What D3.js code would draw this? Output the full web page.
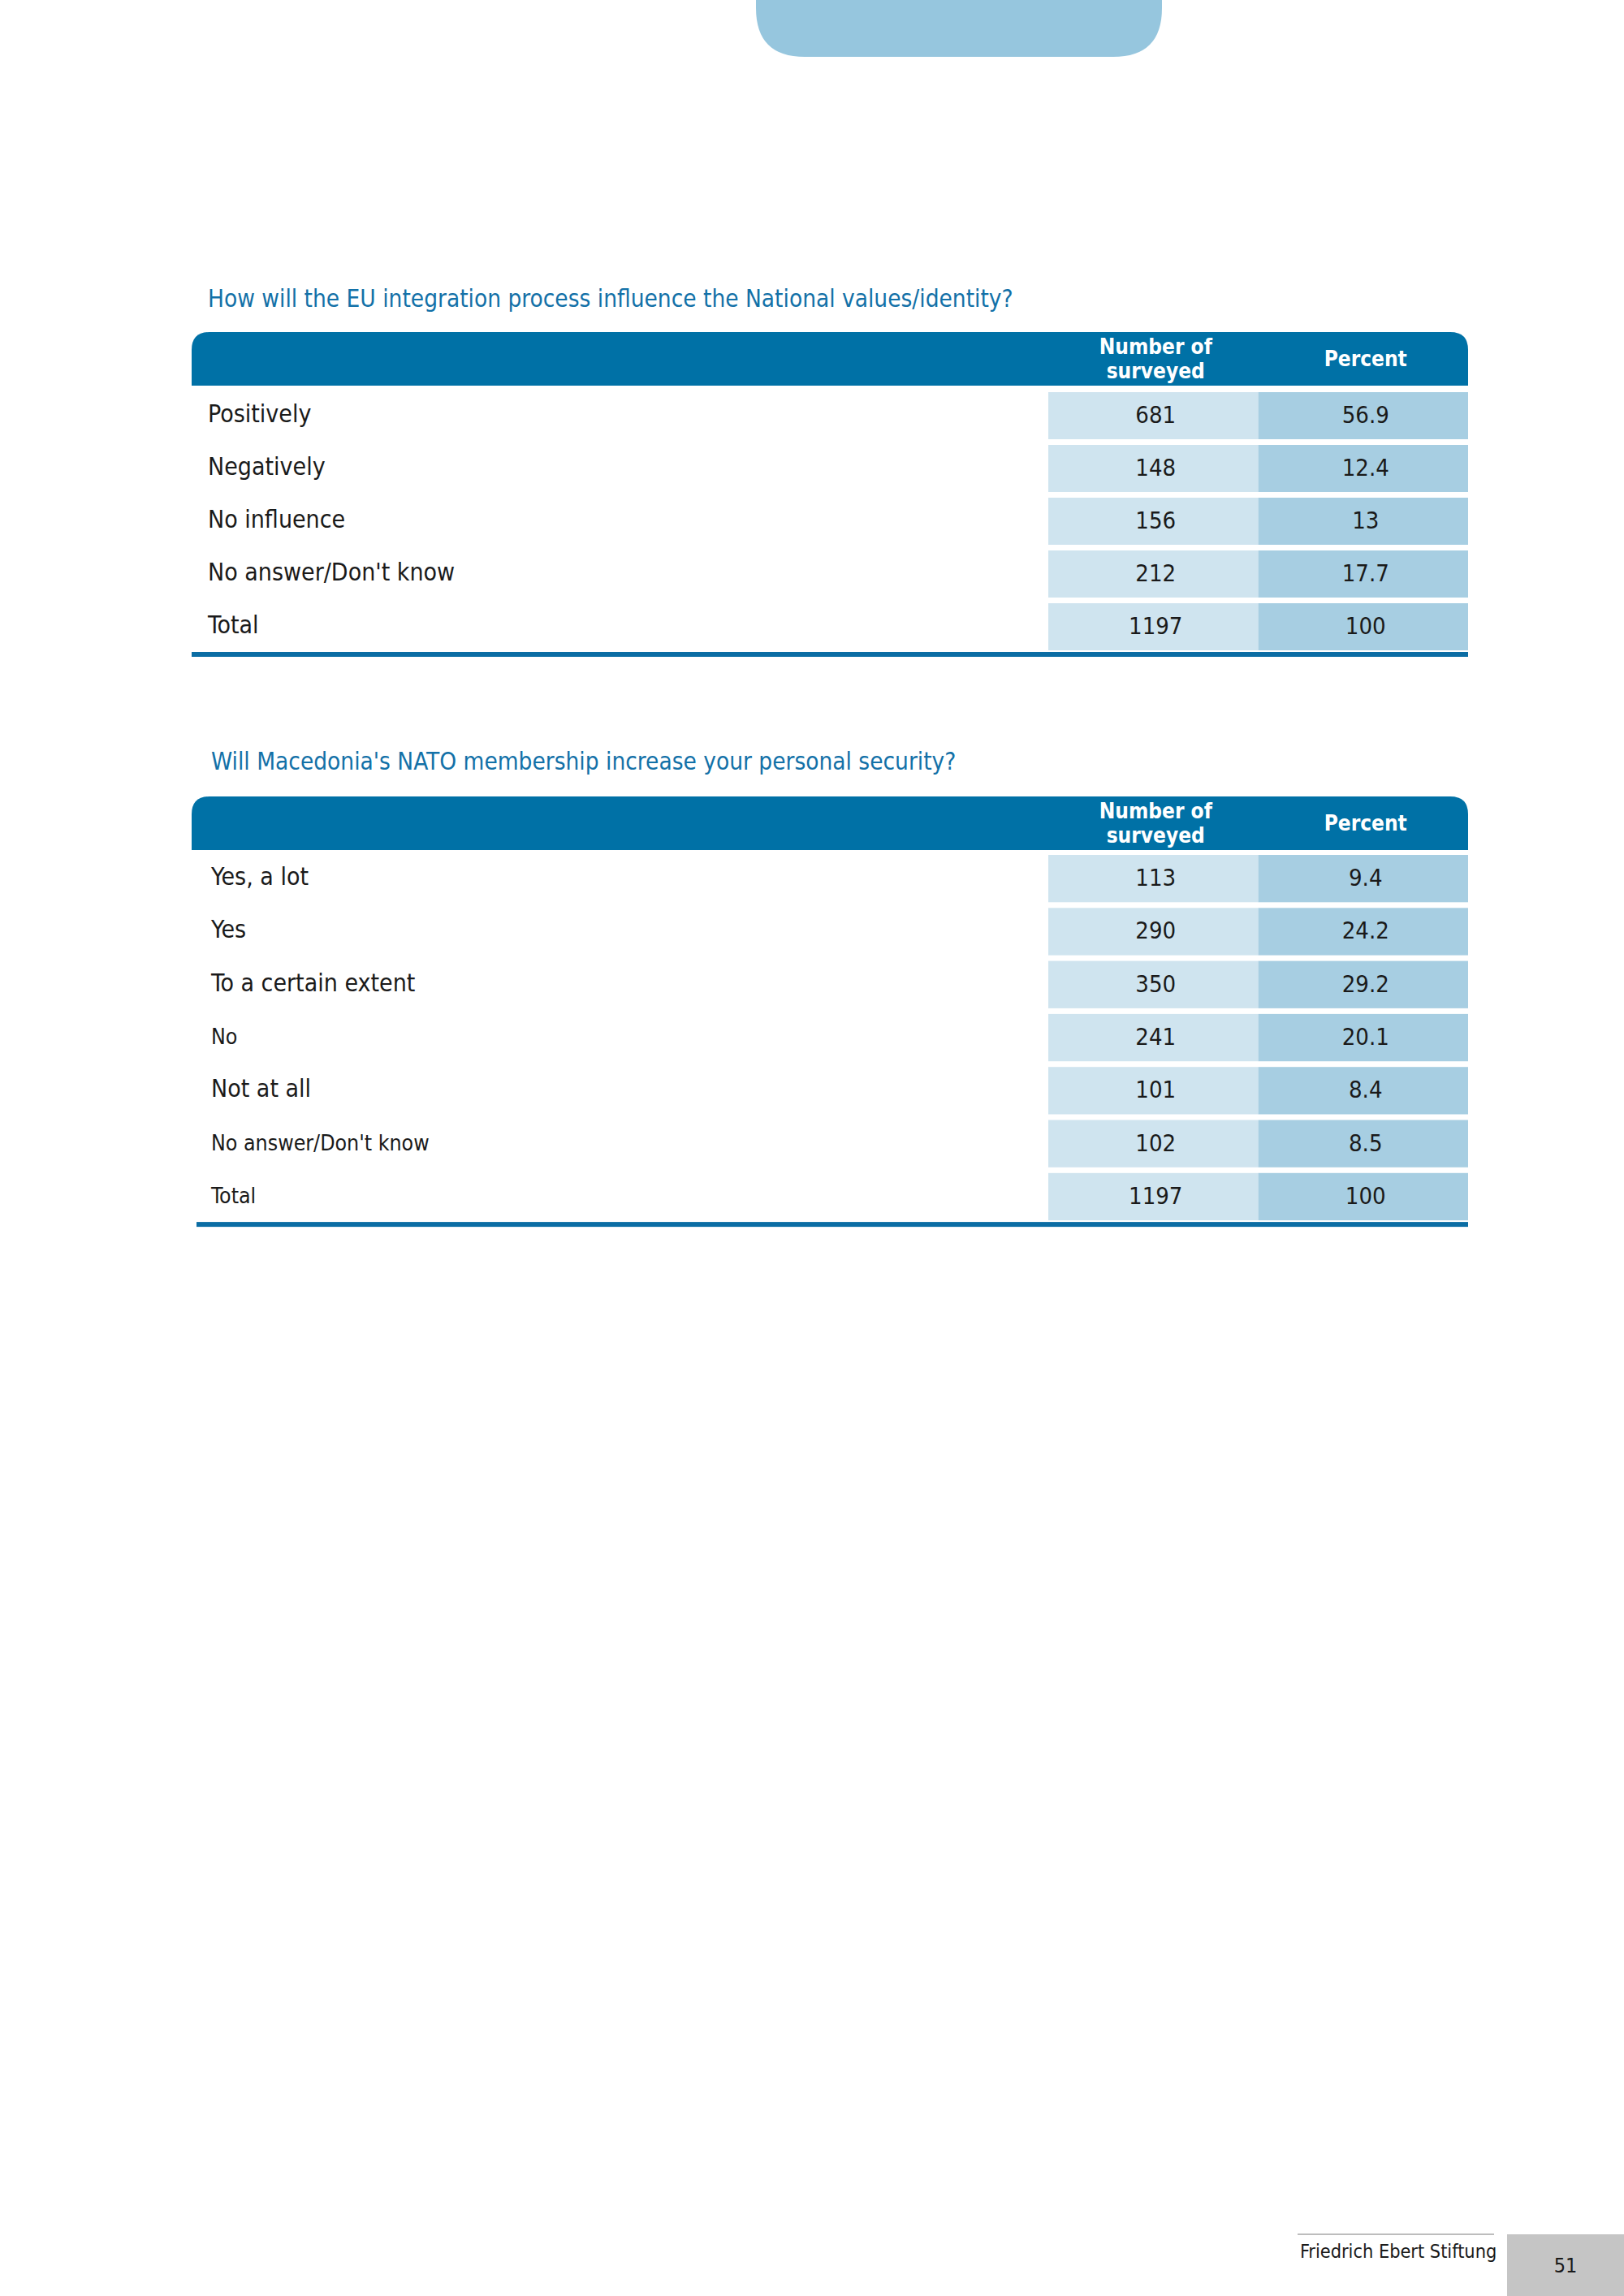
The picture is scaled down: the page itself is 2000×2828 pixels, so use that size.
<!DOCTYPE html>
<html>
<head>
<meta charset="utf-8">
<script src="https://cdn.jsdelivr.net/npm/d3@7"></script>
<style>
  body { margin: 0; background: #fff; }
  svg { display: block; }
</style>
</head>
<body>
<svg id="page"></svg>
<script>
// --- data ---
var euTitle = "How will the EU integration process influence the National values/identity?";
var euLabels = ["Positively", "Negatively", "No influence", "No answer/Don't know", "Total"];
var euCounts = [681, 148, 156, 212, 1197];
var euPercents = [56.9, 12.4, 13, 17.7, 100];

var natoTitle = "Will Macedonia's NATO membership increase your personal security?";
var natoLabels = ["Yes, a lot", "Yes", "To a certain extent", "No", "Not at all", "No answer/Don't know", "Total"];
var natoCounts = [113, 290, 350, 241, 101, 102, 1197];
var natoPercents = [9.4, 24.2, 29.2, 20.1, 8.4, 8.5, 100];

var columnKeys = ["count", "pct"];
var columnHeads = [["Number of", "surveyed"], ["Percent"]];

var footerText = "Friedrich Ebert Stiftung";
var pageNumber = "51";

// --- page setup ---
var W = 2000, H = 2828;
var FONT = "'DejaVu Sans Condensed', 'DejaVu Sans', sans-serif";
var BLUE = "#0071a6";

var svg = d3.select("#page").attr("width", W).attr("height", H);
svg.append("rect").attr("width", W).attr("height", H).attr("fill", "#fff");

// tab at the top of the page (rounded bottom corners)
var tab = { x0: 931, x1: 1431, y1: 70, r: 60 };
svg.append("path")
    .attr("d", "M" + tab.x0 + ",0 L" + tab.x1 + ",0 L" + tab.x1 + "," + (tab.y1 - tab.r) +
        " Q" + tab.x1 + "," + tab.y1 + " " + (tab.x1 - tab.r) + "," + tab.y1 +
        " L" + (tab.x0 + tab.r) + "," + tab.y1 +
        " Q" + tab.x0 + "," + tab.y1 + " " + tab.x0 + "," + (tab.y1 - tab.r) + " Z")
    .attr("fill", "#96c6de");

// columns share one x scale across both tables
var x = d3.scaleBand().domain(columnKeys).range([1291, 1808]);
var tableLeft = 236, tableRight = 1808;

function drawTable(cfg) {
    var g = svg.append("g");
    var rows = cfg.labels.map(function (d, i) {
        return { label: d, count: cfg.counts[i], pct: cfg.percents[i] };
    });

    // title
    g.append("text")
        .attr("x", cfg.titleX).attr("y", cfg.titleY)
        .attr("font-family", FONT).attr("font-size", 29.5)
        .attr("fill", "#1371a8")
        .text(cfg.title);

    // header bar with rounded top corners
    var hy0 = cfg.headTop, hy1 = cfg.headTop + 66, r = 22;
    g.append("path")
        .attr("d", "M" + tableLeft + "," + hy1 + " L" + tableLeft + "," + (hy0 + r) +
            " Q" + tableLeft + "," + hy0 + " " + (tableLeft + r) + "," + hy0 +
            " L" + (tableRight - r) + "," + hy0 +
            " Q" + tableRight + "," + hy0 + " " + tableRight + "," + (hy0 + r) +
            " L" + tableRight + "," + hy1 + " Z")
        .attr("fill", BLUE);

    var hc = (hy0 + hy1) / 2;
    columnHeads.forEach(function (lines, i) {
        var cx = x(columnKeys[i]) + x.bandwidth() / 2 + 3;
        var t = g.append("text")
            .attr("x", cx).attr("text-anchor", "middle")
            .attr("font-family", FONT).attr("font-weight", "bold")
            .attr("font-size", 26).attr("fill", "#fff");
        var lh = 30;
        lines.forEach(function (ln, j) {
            t.append("tspan")
                .attr("x", cx)
                .attr("y", hc + 9 + (j - (lines.length - 1) / 2) * lh)
                .text(ln);
        });
    });

    // rows: band scale, pitch about 65 px with a 7 px white gap
    var n = rows.length;
    var y = d3.scaleBand()
        .domain(d3.range(n))
        .range([cfg.rowTop, cfg.rowTop + cfg.pitch * n - 7])
        .paddingInner(7 / cfg.pitch)
        .paddingOuter(0);

    var row = g.selectAll("g.row").data(rows).enter().append("g").attr("class", "row");

    row.append("rect")
        .attr("x", x("count")).attr("width", x.bandwidth())
        .attr("y", function (d, i) { return y(i); })
        .attr("height", y.bandwidth())
        .attr("fill", "#cfe4ef");
    row.append("rect")
        .attr("x", x("pct")).attr("width", x.bandwidth())
        .attr("y", function (d, i) { return y(i); })
        .attr("height", y.bandwidth())
        .attr("fill", "#a7cee2");

    row.append("text")
        .attr("x", cfg.labelX)
        .attr("y", function (d, i) { return y(i) + y.bandwidth() / 2 + 8; })
        .attr("font-family", FONT)
        .attr("font-size", function (d) { return cfg.small.indexOf(d.label) >= 0 ? 26.5 : 30; })
        .attr("fill", "#1a1a1a")
        .text(function (d) { return d.label; });

    columnKeys.forEach(function (k) {
        row.append("text")
            .attr("x", x(k) + x.bandwidth() / 2 + 3)
            .attr("y", function (d, i) { return y(i) + y.bandwidth() / 2 + 9; })
            .attr("text-anchor", "middle")
            .attr("font-family", FONT).attr("font-size", 29)
            .attr("fill", "#1a1a1a")
            .text(function (d) { return String(d[k]); });
    });

    // bottom rule
    var by = cfg.rowTop + cfg.pitch * n - 7;
    g.append("rect")
        .attr("x", cfg.ruleX).attr("width", tableRight - cfg.ruleX)
        .attr("y", by + 2).attr("height", 6)
        .attr("fill", "#0b6da4");
}

drawTable({
    title: euTitle, labels: euLabels, counts: euCounts, percents: euPercents,
    titleX: 256, titleY: 378, headTop: 409, rowTop: 483, pitch: 65,
    labelX: 256, ruleX: 236, small: []
});

drawTable({
    title: natoTitle, labels: natoLabels, counts: natoCounts, percents: natoPercents,
    titleX: 260, titleY: 948, headTop: 981, rowTop: 1053, pitch: 65.3,
    labelX: 260, ruleX: 242, small: ["No", "No answer/Don't know", "Total"]
});

// footer
svg.append("line")
    .attr("x1", 1598).attr("x2", 1840).attr("y1", 2752).attr("y2", 2752)
    .attr("stroke", "#bdbdbd").attr("stroke-width", 2);
svg.append("text")
    .attr("x", 1601).attr("y", 2781)
    .attr("font-family", FONT).attr("font-size", 23.3).attr("fill", "#1a1a1a")
    .text(footerText);
svg.append("rect")
    .attr("x", 1856).attr("y", 2752).attr("width", W - 1856).attr("height", H - 2752)
    .attr("fill", "#c5c5c5");
svg.append("text")
    .attr("x", 1928).attr("y", 2799).attr("text-anchor", "middle")
    .attr("font-family", FONT).attr("font-size", 25).attr("fill", "#1a1a1a")
    .text(pageNumber);
</script>
</body>
</html>
